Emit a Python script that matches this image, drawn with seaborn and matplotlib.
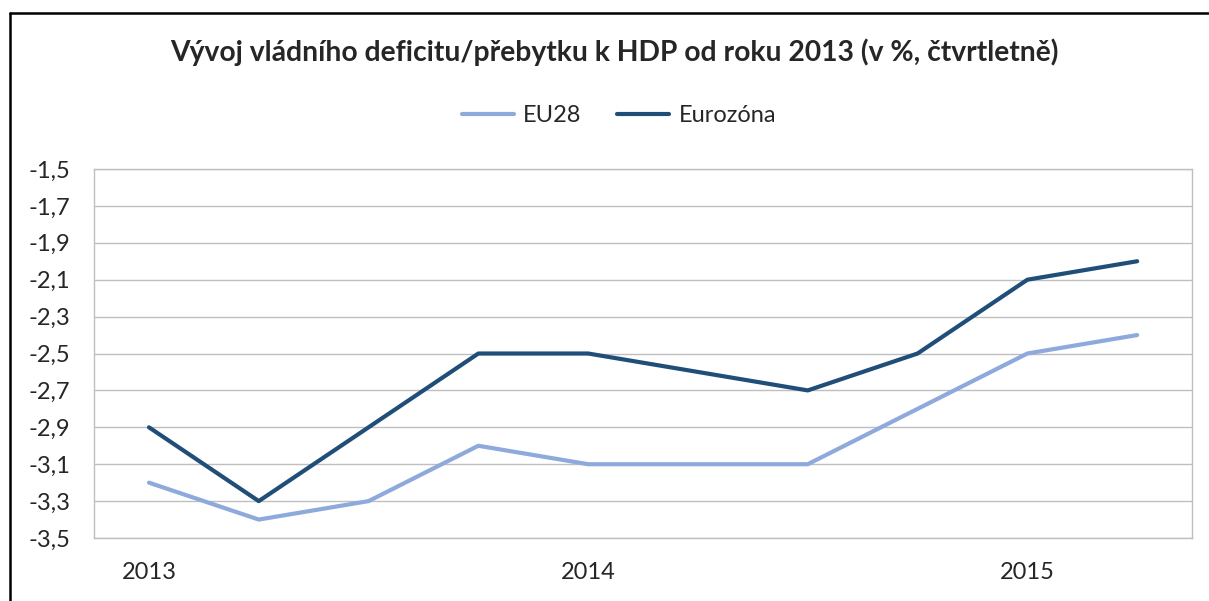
import numpy as np
import pandas as pd
import matplotlib.pyplot as plt
import seaborn as sns
from matplotlib.lines import Line2D

# quarterly values, 2013 Q1 - 2015 Q2
quarters = ["2013Q1", "2013Q2", "2013Q3", "2013Q4", "2014Q1",
            "2014Q2", "2014Q3", "2014Q4", "2015Q1", "2015Q2"]
eu28 = [-3.2, -3.4, -3.3, -3.0, -3.1, -3.1, -3.1, -2.8, -2.5, -2.4]
eurozona = [-2.9, -3.3, -2.9, -2.5, -2.5, -2.6, -2.7, -2.5, -2.1, -2.0]
year_labels = ["2013", "2014", "2015"]
y_ticks = [-3.5, -3.3, -3.1, -2.9, -2.7, -2.5, -2.3, -2.1, -1.9, -1.7, -1.5]

df = pd.DataFrame({
    "q": list(range(len(quarters))) * 2,
    "value": eu28 + eurozona,
    "series": ["EU28"] * len(quarters) + ["Eurozóna"] * len(quarters),
})

sns.set_style("white")
plt.rcParams['font.family'] = ['Lato', 'DejaVu Sans']

fig = plt.figure(figsize=(12.09, 6.01), dpi=100)
ax = fig.add_axes([0.0778, 0.1048, 0.9082, 0.614])

palette = {"EU28": "#8EA9DB", "Eurozóna": "#1F4E79"}
sns.lineplot(data=df, x="q", y="value", hue="series", palette=palette,
             linewidth=3, ax=ax, legend=False)

ax.set_xlim(-0.5, len(quarters) - 0.5)
ax.set_ylim(-3.5, -1.5)
ax.set_yticks(y_ticks)
ax.set_yticklabels([f"{v:.1f}".replace(".", ",") for v in y_ticks], fontsize=17)
ax.set_xticks([0, 4, 8])
ax.set_xticklabels(year_labels, fontsize=17)
ax.tick_params(axis="x", length=0, pad=17)
ax.tick_params(axis="y", length=0, pad=17)
ax.set_xlabel("")
ax.set_ylabel("")
ax.grid(axis="y", color="#BFBFBF", linewidth=1)
for s in ax.spines.values():
    s.set_color("#BFBFBF")
    s.set_linewidth(1)

# title and legend
fig.text(0.508, 0.913, "Vývoj vládního deficitu/přebytku k HDP od roku 2013 (v %, čtvrtletně)",
         ha="center", va="center", fontsize=20.3, fontweight="bold")
handles = [Line2D([], [], color=palette[k], lw=3) for k in palette]
fig.legend(handles, list(palette.keys()), loc="center", bbox_to_anchor=(0.512, 0.808),
           ncol=2, frameon=False, fontsize=17, handlelength=2.2, columnspacing=1.5,
           handletextpad=0.4)

# outer frame (left and top edges visible)
fig.add_artist(Line2D([10 / 1209, 10 / 1209], [0, 1 - 13 / 601], transform=fig.transFigure,
                      color="black", linewidth=1.8))
fig.add_artist(Line2D([10 / 1209, 1], [1 - 13 / 601, 1 - 13 / 601], transform=fig.transFigure,
                      color="black", linewidth=1.8))

fig.savefig("out.png", dpi=100)
